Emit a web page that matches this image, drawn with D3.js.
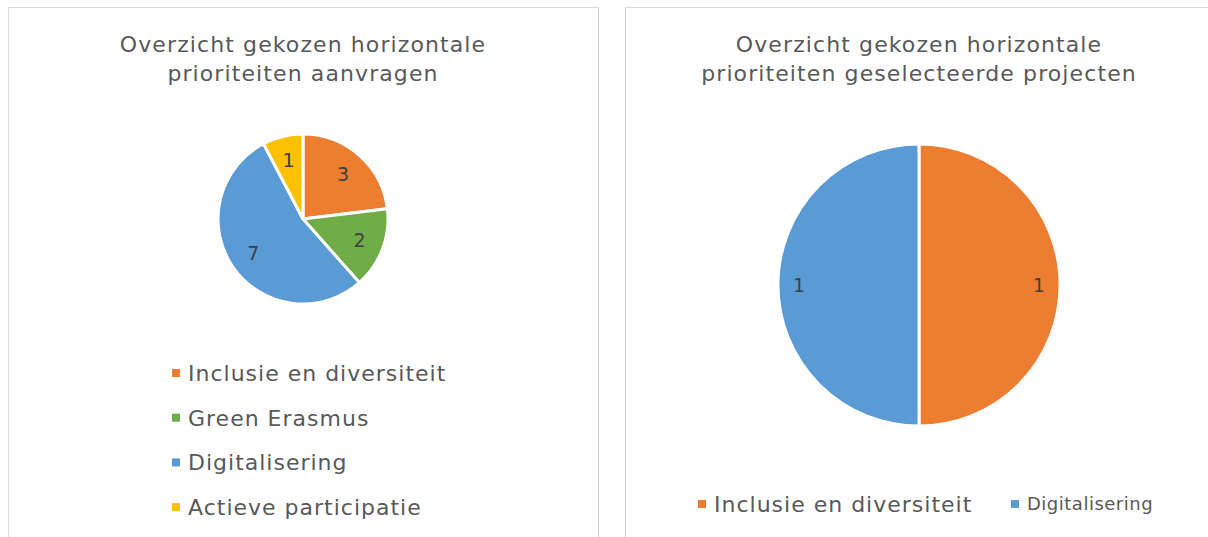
<!DOCTYPE html>
<html>
<head>
<meta charset="utf-8">
<script src="https://cdn.jsdelivr.net/npm/d3@7"></script>
<style>
  html, body { margin: 0; padding: 0; background: #fff; }
  svg text { font-family: "DejaVu Sans", Verdana, sans-serif; }
</style>
</head>
<body>
<svg id="chart" width="1208" height="537"></svg>
<script>
// ---- data ----
const titleLeft = ["Overzicht gekozen horizontale", "prioriteiten aanvragen"];
const categoriesLeft = ["Inclusie en diversiteit", "Green Erasmus", "Digitalisering", "Actieve participatie"];
const valuesLeft = [3, 2, 7, 1];

const titleRight = ["Overzicht gekozen horizontale", "prioriteiten geselecteerde projecten"];
const categoriesRight = ["Inclusie en diversiteit", "Digitalisering"];
const valuesRight = [1, 1];

const colorDomain = ["Inclusie en diversiteit", "Green Erasmus", "Digitalisering", "Actieve participatie"];
const colorRange = ["#ED7D31", "#70AD47", "#5B9BD5", "#FFC000"];

// ---- drawing ----
const svg = d3.select("#chart");
const color = d3.scaleOrdinal().domain(colorDomain).range(colorRange);
const textColor = "#595959";
const labelColor = "#404040";

function panel(x, y, w, h) {
  svg.append("rect").attr("x", x + 0.5).attr("y", y + 0.5).attr("width", w).attr("height", h)
    .attr("fill", "#fff").attr("stroke", "#d9d9d9").attr("stroke-width", 1);
}

function title(lines, cx) {
  const t = svg.append("text").attr("text-anchor", "middle").attr("fill", textColor)
    .style("font-size", "22px").style("letter-spacing", "1.1px");
  lines.forEach((l, i) => {
    t.append("tspan").attr("x", cx).attr("y", 52 + i * 29).text(l);
  });
}

function pie(cats, vals, cx, cy, r, labelFrac) {
  const data = cats.map((c, i) => ({ cat: c, value: vals[i] }));
  const arcs = d3.pie().value(d => d.value).sort(null)(data);
  const arc = d3.arc().innerRadius(0).outerRadius(r);
  const labelArc = d3.arc().innerRadius(r * labelFrac).outerRadius(r * labelFrac);
  const g = svg.append("g").attr("transform", `translate(${cx},${cy})`);
  g.selectAll("path").data(arcs).join("path")
    .attr("d", arc).attr("fill", d => color(d.data.cat))
    .attr("stroke", "#fff").attr("stroke-width", 3).attr("stroke-linejoin", "miter");
  g.selectAll("text").data(arcs).join("text")
    .attr("transform", d => `translate(${labelArc.centroid(d)})`)
    .attr("text-anchor", "middle").attr("dy", "0.36em")
    .attr("fill", labelColor).style("font-size", "19px")
    .text(d => d.data.value);
}

// left panel
panel(8, 7, 590, 540);
title(titleLeft, 303);
pie(categoriesLeft, valuesLeft, 303, 219, 85, 0.71);
const legL = svg.append("g");
categoriesLeft.forEach((c, i) => {
  const y = 373 + i * 44.7;
  legL.append("rect").attr("x", 172).attr("y", y - 4).attr("width", 8).attr("height", 8).attr("fill", color(c));
  legL.append("text").attr("x", 188).attr("y", y).attr("dy", "0.36em")
    .attr("fill", textColor).style("font-size", "22px").style("letter-spacing", "1px").text(c);
});

// right panel
panel(625, 7, 600, 540);
title(titleRight, 919);
pie(categoriesRight, valuesRight, 919, 285, 141, 0.85);
const legR = svg.append("g");
const legRItems = [
  { cat: categoriesRight[0], x: 698, size: 22, ls: 1 },
  { cat: categoriesRight[1], x: 1011, size: 18, ls: 0.5 }
];
legRItems.forEach(it => {
  legR.append("rect").attr("x", it.x).attr("y", 500).attr("width", 8).attr("height", 8).attr("fill", color(it.cat));
  legR.append("text").attr("x", it.x + 16).attr("y", 504).attr("dy", "0.36em")
    .attr("fill", textColor).style("font-size", it.size + "px").style("letter-spacing", it.ls + "px").text(it.cat);
});
</script>
</body>
</html>
